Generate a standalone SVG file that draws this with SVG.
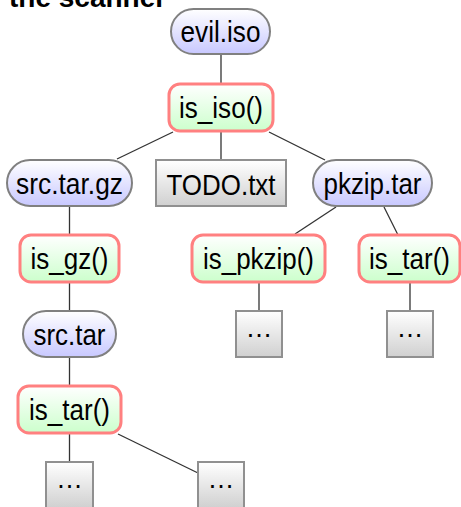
<svg xmlns="http://www.w3.org/2000/svg" width="461" height="507" viewBox="0 0 461 507">
  <defs>
    <linearGradient id="gFile" x1="0" y1="0" x2="0" y2="1">
      <stop offset="0" stop-color="#ffffff"/>
      <stop offset="1" stop-color="#c8c8ff"/>
    </linearGradient>
    <linearGradient id="gTest" x1="0" y1="0" x2="0" y2="1">
      <stop offset="0" stop-color="#ffffff"/>
      <stop offset="1" stop-color="#ccffcc"/>
    </linearGradient>
    <linearGradient id="gLeaf" x1="0" y1="0" x2="0" y2="1">
      <stop offset="0" stop-color="#ffffff"/>
      <stop offset="1" stop-color="#d0d0d0"/>
    </linearGradient>
  </defs>
  <style>
    .file { fill: url(#gFile); stroke: #808080; stroke-width: 2; }
    .test { fill: url(#gTest); stroke: #ff8080; stroke-width: 3; }
    .leaf { fill: url(#gLeaf); stroke: #909090; stroke-width: 2; }
    .lbl { font-family: "Liberation Sans", Arial, sans-serif; font-size: 29px; fill: #000; text-anchor: middle; }
    .dots { font-family: "Liberation Sans", Arial, sans-serif; font-size: 27px; fill: #000; text-anchor: middle; }
    .edge { stroke: #333333; stroke-width: 1.3; fill: none; }
    .title { font-family: "Liberation Sans", Arial, sans-serif; font-size: 28px; font-weight: bold; fill: #000; }
  </style>

  <rect width="461" height="507" fill="#ffffff"/>

  <!-- heading, mostly above the top edge -->
  <text class="title" x="9" y="7">the scanner</text>

  <g id="connectors">
    <line class="edge" x1="221" y1="54" x2="221" y2="84"/>
    <line class="edge" x1="173" y1="132" x2="117" y2="159"/>
    <line class="edge" x1="221" y1="131" x2="221" y2="160"/>
    <line class="edge" x1="269" y1="132" x2="325" y2="160"/>
    <line class="edge" x1="69.5" y1="206" x2="69.5" y2="235"/>
    <line class="edge" x1="336" y1="207" x2="295" y2="234"/>
    <line class="edge" x1="384" y1="207" x2="398" y2="235"/>
    <line class="edge" x1="69.5" y1="282" x2="69.5" y2="311"/>
    <line class="edge" x1="259" y1="282" x2="259" y2="311"/>
    <line class="edge" x1="410" y1="282" x2="410" y2="311"/>
    <line class="edge" x1="69.5" y1="357" x2="69.5" y2="386"/>
    <line class="edge" x1="69.5" y1="433" x2="69.5" y2="462"/>
    <line class="edge" x1="118" y1="434" x2="198" y2="473"/>
  </g>

  <g id="evil_iso">
    <rect class="file" x="171" y="9" width="99" height="45" rx="22.5"/>
    <text class="lbl" x="220.5" y="42" textLength="80" lengthAdjust="spacingAndGlyphs">evil.iso</text>
  </g>
  <g id="is_iso">
    <rect class="test" x="169" y="84" width="104" height="47" rx="11"/>
    <text class="lbl" x="221" y="118" textLength="84" lengthAdjust="spacingAndGlyphs">is_iso()</text>
  </g>
  <g id="src_tar_gz">
    <rect class="file" x="7" y="160" width="125" height="46" rx="23"/>
    <text class="lbl" x="69.5" y="194" textLength="107" lengthAdjust="spacingAndGlyphs">src.tar.gz</text>
  </g>
  <g id="todo_txt">
    <rect class="leaf" x="156" y="160" width="130" height="46"/>
    <text class="lbl" x="221" y="194.5" textLength="109" lengthAdjust="spacingAndGlyphs">TODO.txt</text>
  </g>
  <g id="pkzip_tar">
    <rect class="file" x="313" y="160" width="119" height="46" rx="23"/>
    <text class="lbl" x="372.5" y="194" textLength="98" lengthAdjust="spacingAndGlyphs">pkzip.tar</text>
  </g>
  <g id="is_gz">
    <rect class="test" x="20" y="235" width="99" height="47" rx="11"/>
    <text class="lbl" x="69.5" y="269" textLength="78" lengthAdjust="spacingAndGlyphs">is_gz()</text>
  </g>
  <g id="is_pkzip">
    <rect class="test" x="192" y="235" width="133" height="47" rx="11"/>
    <text class="lbl" x="258.5" y="269" textLength="111" lengthAdjust="spacingAndGlyphs">is_pkzip()</text>
  </g>
  <g id="is_tar_pkzip">
    <rect class="test" x="359" y="235" width="101" height="47" rx="11"/>
    <text class="lbl" x="409.5" y="269" textLength="81" lengthAdjust="spacingAndGlyphs">is_tar()</text>
  </g>
  <g id="src_tar">
    <rect class="file" x="23" y="311" width="93" height="46" rx="23"/>
    <text class="lbl" x="69.5" y="345" textLength="72" lengthAdjust="spacingAndGlyphs">src.tar</text>
  </g>
  <g id="more_pkzip">
    <rect class="leaf" x="236" y="311" width="46" height="46"/>
    <text class="dots" x="259" y="337">…</text>
  </g>
  <g id="more_tar_pkzip">
    <rect class="leaf" x="387" y="311" width="46" height="46"/>
    <text class="dots" x="410" y="337">…</text>
  </g>
  <g id="is_tar_src">
    <rect class="test" x="18" y="386" width="103" height="47" rx="11"/>
    <text class="lbl" x="69.5" y="420" textLength="81" lengthAdjust="spacingAndGlyphs">is_tar()</text>
  </g>
  <g id="more_src_a">
    <rect class="leaf" x="46" y="462" width="47" height="46"/>
    <text class="dots" x="69.5" y="488">…</text>
  </g>
  <g id="more_src_b">
    <rect class="leaf" x="198" y="462" width="46" height="46"/>
    <text class="dots" x="221" y="488">…</text>
  </g>
</svg>
